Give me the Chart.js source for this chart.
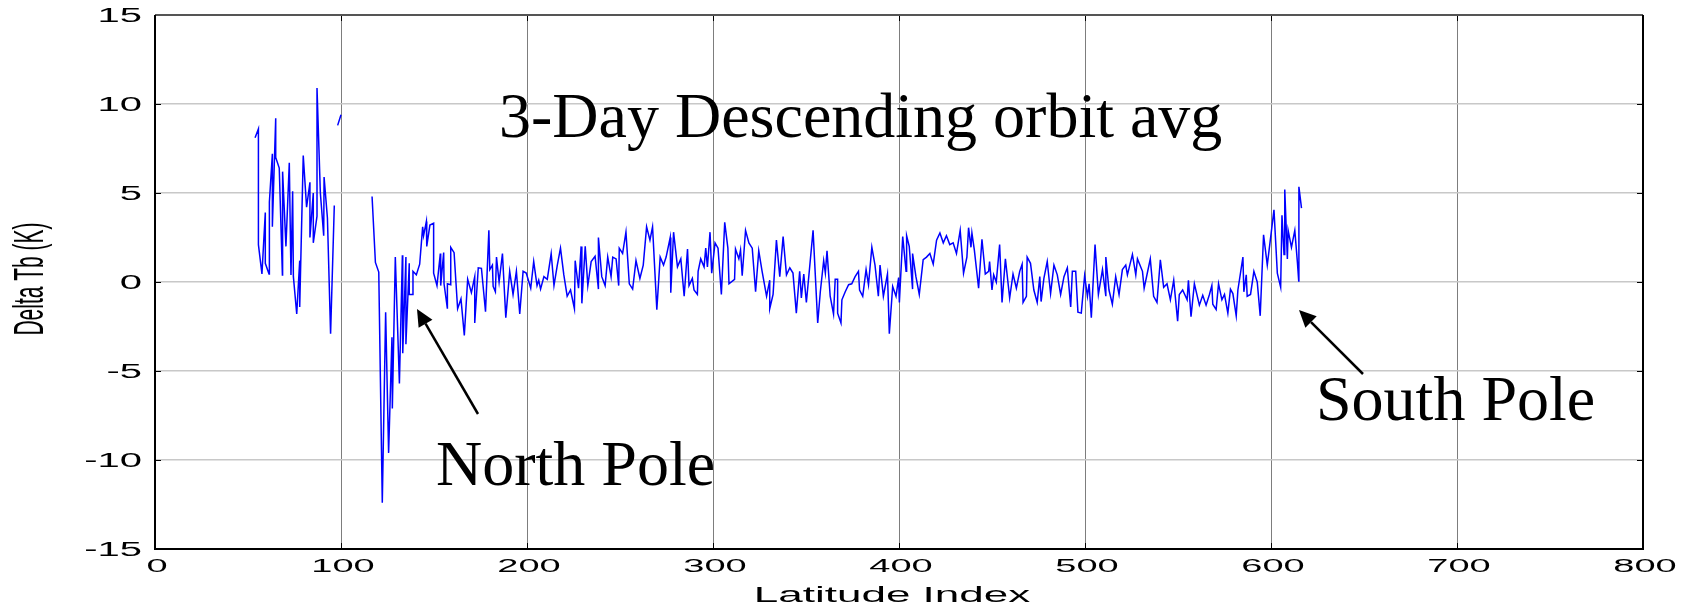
<!DOCTYPE html>
<html>
<head>
<meta charset="utf-8">
<script src="https://cdn.jsdelivr.net/npm/chart.js@4.4.1/dist/chart.umd.min.js"></script>
<style>
  html, body { margin: 0; padding: 0; background: #fff; }
  #wrap { width: 1696px; height: 604px; position: relative; }
</style>
</head>
<body>
<div id="wrap"><canvas id="chart-dtb"></canvas></div>
<script>
/* ── Delta Tb vs latitude index (3-day descending orbit average) ── */

// Tick positions of both axes
const X_TICKS = [0, 100, 200, 300, 400, 500, 600, 700, 800];
const Y_TICKS = [-15, -10, -5, 0, 5, 10, 15];

// Latitude index of each vertex (null values mark gaps in the trace)
const latIdx = [
  53.8, 55.6, 55.6, 57.5, 59.3, 59.3, 61.3, 61.5, 63.1, 63.1, 64.9, 64.9, 66.8, 68.5, 68.6, 70.4,
  72.2, 73.1, 74.0, 74.4, 76.2, 77.8, 77.8, 79.7, 81.5, 83.3, 83.3, 85.1, 85.1, 87.1, 87.1, 88.9,
  90.7, 90.9, 92.7, 94.4, 96.4, 97.3, 98.2, 100.0, 108.0,
  116.7, 118.5, 120.3, 122.2, 124.0, 125.6, 127.4, 127.6, 129.2, 131.4, 133.0, 133.2, 134.9, 134.9,
  136.7, 136.7, 138.7, 138.7, 140.5, 142.3, 143.9, 144.4, 145.9, 146.1, 147.8, 149.8, 149.8, 151.6,
  153.4, 153.6, 155.2, 155.4, 157.2, 157.2, 159.0, 159.0, 160.8, 162.7, 164.5, 166.3, 168.1, 170.1,
  171.9, 171.9, 173.8, 175.5, 177.7, 179.5, 180.0, 181.4, 181.8, 183.0, 183.6, 185.0, 186.8, 188.6,
  190.7, 192.5, 194.3, 196.1, 197.9, 199.6, 202.0, 203.6, 205.4, 206.3, 207.3, 209.1, 210.9, 213.0,
  214.5, 216.3, 218.0, 219.8, 221.6, 223.4, 225.5, 225.9, 227.7, 229.1, 229.5, 231.3, 232.7, 234.5,
  236.6, 238.4, 238.4, 240.2, 242.0, 243.4, 245.2, 246.1, 247.9, 249.3, 249.6, 251.4, 253.2, 255.0,
  256.8, 258.6, 260.7, 262.5, 264.3, 266.1, 267.5, 269.8, 271.6, 273.4, 274.8, 277.0, 277.3, 278.8,
  280.9, 282.7, 284.5, 286.3, 287.1, 288.9, 289.8, 291.6, 292.0, 293.4, 295.2, 296.1, 297.0, 298.4,
  299.3, 301.1, 302.7, 304.5, 306.3, 308.0, 308.6, 311.6, 312.1, 313.9, 314.8, 315.7, 317.5, 319.3,
  321.1, 322.9, 324.6, 326.4, 328.8, 330.5, 330.5, 332.3, 334.1, 335.9, 337.7, 339.5, 341.3, 343.0,
  344.8, 346.6, 347.5, 348.8, 350.2, 353.8, 356.3, 357.7, 359.5, 360.4, 361.3, 363.0, 364.8, 365.7,
  367.0, 367.0, 368.8, 369.3, 371.1, 372.9, 374.6, 376.4, 378.2, 378.8, 380.5, 382.3, 383.6, 385.4,
  387.1, 388.9, 389.8, 391.6, 393.8, 394.8, 396.6, 398.4, 399.8, 400.2, 402.0, 403.8, 404.1, 405.5,
  407.3, 407.3, 409.1, 410.9, 413.0, 414.8, 416.6, 418.4, 420.2, 422.0, 423.8, 425.5, 427.3, 429.1,
  430.9, 432.9, 434.7, 436.5, 437.4, 438.7, 439.2, 440.5, 442.8, 444.6, 446.4, 448.2, 448.7, 450.0,
  450.9, 452.3, 454.1, 455.4, 457.2, 459.5, 461.3, 463.1, 464.9, 466.2, 466.7, 468.5, 468.9, 470.7,
  472.5, 474.3, 475.7, 476.4, 477.9, 479.7, 481.5, 483.3, 485.1, 486.9, 488.7, 490.5, 492.3, 493.2,
  495.0, 496.2, 498.0, 499.8, 501.3, 502.2, 503.4, 505.4, 507.2, 509.4, 511.2, 511.2, 512.9, 514.7,
  516.5, 518.3, 520.1, 521.9, 522.8, 525.5, 527.3, 528.2, 530.9, 531.8, 535.1, 536.9, 538.7, 540.5,
  542.3, 544.1, 545.9, 547.7, 549.8, 550.7, 552.5, 554.9, 555.6, 557.0, 558.8, 561.5, 563.3, 565.1,
  566.9, 568.2, 568.7, 570.5, 571.8, 573.6, 575.0, 576.8, 578.2, 579.5, 581.3, 582.2, 584.9, 585.4,
  586.7, 587.2, 589.0, 590.8, 592.6, 594.2, 596.0, 598.0, 601.6, 603.4, 605.2, 605.9, 607.0, 607.4,
  608.8, 609.2, 611.0, 612.8, 614.2, 614.9, 615.0, 616.4
];

// Delta Tb (K) at each vertex
const deltaTb = [
  8.1, 8.6, 2.1, 0.45, 3.9, 1.05, 0.45, 4.5, 7.2, 3.1, 9.2, 7.0, 6.4, 0.4, 6.2, 2.0,
  6.7, 0.4, 5.1, 0.3, -1.8, 1.2, -1.4, 7.1, 4.2, 5.6, 2.5, 5.0, 2.2, 3.7, 10.9, 5.0,
  2.6, 5.9, 3.6, -2.9, 4.3, null, 8.8, 9.4, null,
  4.8, 1.1, 0.56, -12.4, -1.7, -9.6, -3.1, -7.1, 1.4, -5.7, 1.5, -4.0, 1.4, -3.5,
  1.05, -0.7, -0.7, 0.6, 0.4, 1.0, 3.1, 2.6, 3.4, 2.0, 3.2, 3.3, 0.5, -0.2,
  1.6, -0.2, 1.65, -0.1, -1.5, -0.1, -0.15, 1.95, 1.65, -1.5, -0.95, -3.0, 0.15, -0.6,
  0.3, -2.3, 0.8, 0.77, -1.67, 2.9, 0.7, 0.95, -0.25, -0.55, 1.4, 0.0, 1.6, -2.0,
  0.6, -0.7, 0.6, -1.8, 0.6, 0.5, -0.35, 1.15, -0.2, 0.1, -0.4, 0.3, 0.15, 1.6,
  -0.2, 0.95, 1.9, 0.4, -0.8, -0.45, -1.5, 1.2, -0.35, 2.0, -1.2, 2.0, -0.2, 1.15,
  1.45, -0.4, 2.5, 0.3, -0.2, 1.4, 0.3, 1.4, 1.3, -0.2, 1.9, 1.6, 2.8, -0.1,
  -0.4, 1.2, 0.2, 0.95, 3.1, 2.35, 3.1, -1.55, 1.4, 0.95, 1.4, 2.5, -0.6, 2.8,
  0.85, 1.3, -0.8, 1.85, -0.2, 0.2, -0.45, -0.7, 0.6, 1.3, 0.85, 1.9, 0.85, 2.8,
  0.5, 2.2, 1.9, -0.7, 3.35, 1.9, -0.1, 0.15, 1.85, 1.3, 1.8, 0.35, 2.9, 2.2,
  1.9, -0.55, 1.75, 0.6, -0.8, 0.1, -1.5, -0.7, 2.35, 0.3, 2.55, 0.4, 0.8, 0.5,
  -1.75, 0.6, -0.9, 0.45, -1.15, 2.9, -2.3, -0.55, 1.2, 0.5, 1.75, -0.8, -1.8, 0.15,
  0.15, -1.75, -2.3, -1.0, -0.55, -0.15, -0.1, 0.3, 0.6, -0.45, -0.8, 0.7, -0.15, 1.95,
  0.95, -0.8, 0.95, -0.8, 0.45, -2.9, -0.25, -0.8, 0.25, -1.15, 2.55, 0.6, 2.6, 2.0,
  -0.4, 1.6, 0.3, -0.7, 1.25, 1.4, 1.6, 1.0, 2.35, 2.75, 2.2, 2.6, 2.1, 2.2,
  1.6, 2.9, 0.5, 1.4, 3.05, 1.95, 2.75, 1.8, -0.35, 2.4, 0.45, 0.6, 1.15, -0.45,
  0.4, 0.0, 2.1, -1.15, 1.3, -0.9, 0.45, -0.35, 0.6, 1.0, -1.15, -0.8, 1.4, 1.05,
  -0.45, -1.15, 0.3, -1.1, 0.2, 1.15, -0.65, 0.95, 0.4, -0.7, 0.3, 0.8, -1.4, 0.6,
  0.6, -1.7, -1.75, 0.35, -0.8, -0.1, -2.0, 2.1, -0.7, 0.7, -0.8, 1.4, -0.45, -1.25,
  0.3, -0.7, 0.7, 0.95, 0.4, 1.55, 0.4, 1.3, 0.6, -0.35, 1.3, -0.8, -1.15, 1.25,
  -0.3, -0.1, -1.0, 0.1, -2.2, -0.7, -0.45, -1.0, 0.1, -1.95, -0.1, -1.3, -0.75, -1.3,
  -0.7, -0.2, -1.25, -1.55, -0.1, -1.0, -0.7, -1.75, -0.4, -0.65, -1.9, -0.45, 1.4, -0.55,
  0.4, -0.8, -0.7, 0.6, 0.0, -1.9, 2.65, 0.95, 4.05, 0.5, -0.3, 3.75, 1.55, 5.2,
  1.3, 2.9, 1.95, 2.9, 1.1, 0.05, 5.35, 4.15
];

// Annotation texts placed on the plot
const NOTES = [
  { text: '3-Day Descending orbit avg', x: 499, y: 137 },
  { text: 'North Pole', x: 436, y: 485 },
  { text: 'South Pole', x: 1316, y: 420 },
];
const ARROWS = [
  { from: [478, 414], to: [417, 309] },
  { from: [1363, 374], to: [1299, 310] },
];

const AXIS_FONT = '"Liberation Sans", Arial, sans-serif';

// Matlab-like labels: horizontally stretched sans text
function stretchedText(ctx, txt, x, y, size, sx, align, base) {
  ctx.save();
  ctx.translate(x, y);
  ctx.scale(sx, 1);
  ctx.font = `${size}px ${AXIS_FONT}`;
  ctx.textAlign = align;
  ctx.textBaseline = base;
  ctx.fillText(txt, 0, 0);
  ctx.restore();
}

const matlabFrame = {
  id: 'matlabFrame',
  afterDraw(chart) {
    const { ctx, chartArea: a, scales: { x, y } } = chart;
    ctx.save();
    ctx.fillStyle = '#000';

    // tick labels
    y.ticks.forEach(t => stretchedText(ctx, String(t.value), 142, y.getPixelForValue(t.value) + 1, 20, 2, 'right', 'middle'));
    x.ticks.forEach(t => stretchedText(ctx, String(t.value), x.getPixelForValue(t.value) + 2, 567, 19, 2, 'center', 'middle'));

    // axis titles
    stretchedText(ctx, 'Latitude Index', 892, 602, 22, 2, 'center', 'alphabetic');
    ctx.save();
    ctx.translate(43, 279);
    ctx.rotate(-Math.PI / 2);
    ctx.scale(1, 2);
    ctx.font = `21px ${AXIS_FONT}`;
    ctx.textAlign = 'center';
    ctx.textBaseline = 'alphabetic';
    ctx.fillText('Delta Tb (K)', 0, 0);
    ctx.restore();

    // inward ticks
    ctx.strokeStyle = '#000';
    ctx.lineWidth = 1;
    ctx.beginPath();
    x.ticks.forEach(t => {
      const px = Math.round(x.getPixelForValue(t.value)) + 0.5;
      ctx.moveTo(px, a.bottom); ctx.lineTo(px, a.bottom - 6);
      ctx.moveTo(px, a.top); ctx.lineTo(px, a.top + 6);
    });
    y.ticks.forEach(t => {
      const py = Math.round(y.getPixelForValue(t.value)) + 0.5;
      ctx.moveTo(a.left, py); ctx.lineTo(a.left + 6, py);
      ctx.moveTo(a.right, py); ctx.lineTo(a.right - 6, py);
    });
    ctx.stroke();

    // box
    ctx.lineWidth = 2;
    ctx.strokeStyle = '#555';
    ctx.beginPath(); ctx.moveTo(a.left, a.top); ctx.lineTo(a.right, a.top); ctx.stroke();
    ctx.strokeStyle = '#000';
    ctx.beginPath();
    ctx.moveTo(a.left, a.top); ctx.lineTo(a.left, a.bottom); ctx.lineTo(a.right, a.bottom); ctx.lineTo(a.right, a.top);
    ctx.stroke();

    // annotations
    ctx.font = '64px "Liberation Serif", "Times New Roman", serif';
    ctx.textAlign = 'left';
    ctx.textBaseline = 'alphabetic';
    NOTES.forEach(n => ctx.fillText(n.text, n.x, n.y));

    ARROWS.forEach(({ from, to }) => {
      const ang = Math.atan2(to[1] - from[1], to[0] - from[0]);
      const L = 17, W = 8;
      const bx = to[0] - L * Math.cos(ang), by = to[1] - L * Math.sin(ang);
      ctx.lineWidth = 2.5;
      ctx.beginPath(); ctx.moveTo(from[0], from[1]); ctx.lineTo(bx, by); ctx.stroke();
      ctx.beginPath();
      ctx.moveTo(to[0], to[1]);
      ctx.lineTo(bx + W * Math.sin(ang), by - W * Math.cos(ang));
      ctx.lineTo(bx - W * Math.sin(ang), by + W * Math.cos(ang));
      ctx.closePath();
      ctx.fill();
    });
    ctx.restore();
  }
};

new Chart(document.getElementById('chart-dtb'), {
  type: 'line',
  data: {
    datasets: [{
      label: 'Delta Tb',
      data: latIdx.map((v, i) => ({ x: v, y: deltaTb[i] })),
      borderColor: '#0000ff',
      borderWidth: 1.5,
      pointRadius: 0,
      tension: 0,
      spanGaps: false,
    }]
  },
  options: {
    responsive: true, maintainAspectRatio: false, animation: false,
    devicePixelRatio: 1,
    layout: { padding: { left: 155, right: 53, top: 15, bottom: 55 } },
    plugins: { legend: { display: false }, tooltip: { enabled: false } },
    scales: {
      x: {
        type: 'linear', min: 0, max: 800,
        afterBuildTicks: s => { s.ticks = X_TICKS.map(v => ({ value: v })); },
        ticks: { display: false },
        grid: { color: '#7d7d7d', lineWidth: 1, drawTicks: false },
        border: { display: false }
      },
      y: {
        type: 'linear', min: -15, max: 15,
        afterBuildTicks: s => { s.ticks = Y_TICKS.map(v => ({ value: v })); },
        ticks: { display: false },
        grid: { color: '#c8c8c8', lineWidth: 1.5, drawTicks: false },
        border: { display: false }
      }
    }
  },
  plugins: [matlabFrame]
});
</script>
</body>
</html>
